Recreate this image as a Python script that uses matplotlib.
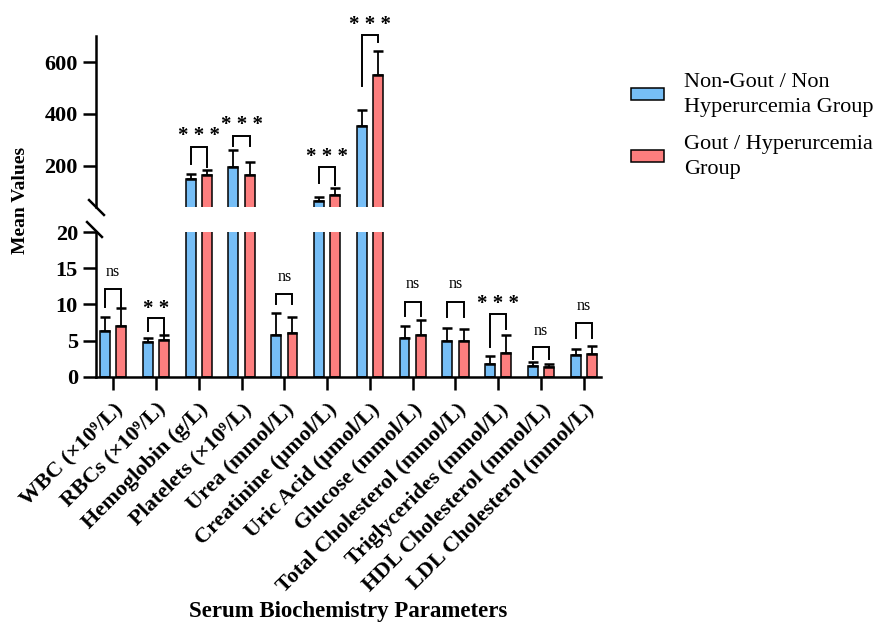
import matplotlib
matplotlib.use("Agg")
import matplotlib.pyplot as plt
import numpy as np

plt.rcParams['font.family'] = ['Liberation Serif', 'DejaVu Serif']

# ---- data ----
params = ["WBC (×10⁹/L)", "RBCs (×10⁹/L)", "Hemoglobin (g/L)", "Platelets (×10⁹/L)",
          "Urea (mmol/L)", "Creatinine (µmol/L)", "Uric Acid (µmol/L)", "Glucose (mmol/L)",
          "Total Cholesterol (mmol/L)", "Triglycerides (mmol/L)", "HDL Cholesterol (mmol/L)",
          "LDL Cholesterol (mmol/L)"]

non_gout = [6.35, 4.8, 149, 195, 5.8, 64, 354, 5.35, 5.0, 1.8, 1.55, 2.95]
non_gout_sd = [1.85, 0.5, 20, 64, 3.05, 14, 60, 1.65, 1.7, 1.1, 0.55, 0.95]
gout = [7.0, 5.1, 164, 163, 6.1, 86, 551, 5.75, 4.9, 3.35, 1.35, 3.1]
gout_sd = [2.5, 0.65, 19, 53, 2.1, 27, 92, 2.15, 1.7, 2.4, 0.45, 1.15]

sig = ["ns", "* *", "* * *", "* * *", "ns", "* * *", "* * *", "ns", "ns", "* * *", "ns", "ns"]
# bracket top, left leg end, right leg end, label centre (data units of the segment used)
br_top = [12.2, 8.1, 273, 316, 11.45, 196, 705, 10.35, 10.35, 8.7, 4.07, 7.5]
br_left = [9.65, 6.3, 207, 275, 10.1, 133, 508, 8.4, 8.3, 4.1, 2.4, 5.3]
br_right = [9.65, 5.8, 196, 275, 10.1, 124, 677, 8.4, 8.3, 6.6, 2.4, 5.3]
lab_y = [14.5, 10.25, 338, 381, 13.85, 258, 770, 12.85, 12.85, 11.0, 6.37, 9.8]

legend_labels = ["Non-Gout / Non\nHyperurcemia Group", "Gout / Hyperurcemia\nGroup"]

BLUE = "#76BEF6"
RED = "#FD7E7E"

W, H = 877, 628
fig = plt.figure(figsize=(W / 100, H / 100), dpi=100)

left, right = 96, 601
ax_top = fig.add_axes([left / W, 1 - 207.1 / H, (right - left) / W, (207.1 - 36.4) / H])
ax_bot = fig.add_axes([left / W, 1 - 376.7 / H, (right - left) / W, (376.7 - 232.3) / H])

x = np.arange(len(params))
off = 0.19
bw = 0.23
zeros = np.zeros(len(params))

handles = []
for ax in (ax_top, ax_bot):
    b1 = ax.bar(x - off, non_gout, bw, color=BLUE, edgecolor="black", linewidth=1.1,
                yerr=[zeros, non_gout_sd], capsize=3.5,
                error_kw=dict(elinewidth=1.3, capthick=1.8, ecolor="black"))
    b2 = ax.bar(x + off, gout, bw, color=RED, edgecolor="black", linewidth=1.1,
                yerr=[zeros, gout_sd], capsize=3.5,
                error_kw=dict(elinewidth=1.3, capthick=1.8, ecolor="black"))
    handles = [b1, b2]
    ax.set_xlim(-0.4, len(params) - 0.6)
    for s in ("top", "right"):
        ax.spines[s].set_visible(False)
    ax.spines["left"].set_linewidth(1.8)
    ax.spines["bottom"].set_linewidth(1.8)
    ax.tick_params(axis="both", width=1.8, length=9.5, labelsize=16)

ax_top.set_ylim(40, 700)
ax_top.set_yticks([200, 400, 600])
ax_top.spines["bottom"].set_visible(False)
ax_top.tick_params(axis="x", bottom=False, labelbottom=False)

ax_bot.set_ylim(0, 20)
ax_bot.set_yticks([0, 5, 10, 15, 20])
ax_bot.set_xticks(x)
ax_bot.set_xticklabels(params, rotation=45, ha="right", rotation_mode="anchor")
ax_bot.tick_params(axis="x", pad=7)

for ax in (ax_top, ax_bot):
    for lab in ax.get_yticklabels() + ax.get_xticklabels():
        lab.set_fontweight("bold")

# significance brackets
for i in range(len(params)):
    ax = ax_top if gout[i] > 20 else ax_bot
    ax.plot([x[i] - off, x[i] - off, x[i] + off, x[i] + off],
            [br_left[i], br_top[i], br_top[i], br_right[i]],
            color="black", lw=1.4, clip_on=False, solid_joinstyle="miter")
    if sig[i] == "ns":
        ax.annotate(sig[i], (x[i], lab_y[i]), ha="center", va="center",
                    fontsize=11.5, annotation_clip=False)
    else:
        ax.annotate(sig[i], (x[i], lab_y[i]), xytext=(0, -4.5), textcoords="offset points",
                    ha="center", va="center", fontsize=15, fontweight="bold",
                    annotation_clip=False)

# break marks on the y axis
mk = dict(marker=[(-1, 1), (1, -1)], markersize=12, linestyle="none",
          color="black", mec="black", mew=1.8, clip_on=False)
ax_top.plot([0], [0], transform=ax_top.transAxes, **mk)
ax_bot.plot([-0.003], [1.02], transform=ax_bot.transAxes, **mk)

fig.text(21 / W, 1 - 200 / H, "Mean Values", rotation=90, ha="center", va="center",
         fontsize=14, fontweight="bold")
fig.text((left + right) / 2 / W, 1 - 612 / H, "Serum Biochemistry Parameters",
         ha="center", va="center", fontsize=16.5, fontweight="bold")

leg = fig.legend(handles, legend_labels, loc="upper left", bbox_to_anchor=(631 / W, 1 - 73 / H),
                 frameon=False, fontsize=16, handlelength=1.5, handleheight=0.45,
                 handletextpad=0.9, labelspacing=0.85, borderpad=0, borderaxespad=0)
for t in leg.get_texts():
    t.set_linespacing(1.4)

fig.savefig("out.png", dpi=100)
